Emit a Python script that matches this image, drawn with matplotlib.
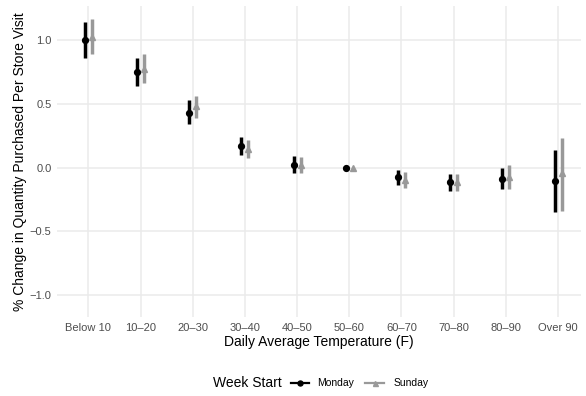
import matplotlib
matplotlib.use("Agg")
import matplotlib.pyplot as plt
from matplotlib.lines import Line2D
import numpy as np

plt.rcParams['font.family'] = ['Liberation Sans', 'DejaVu Sans']

categories = ["Below 10", "10\u201320", "20\u201330", "30\u201340", "40\u201350",
              "50\u201360", "60\u201370", "70\u201380", "80\u201390", "Over 90"]

monday_est = [1.00, 0.751, 0.433, 0.171, 0.025, 0.0, -0.072, -0.114, -0.085, -0.106]
monday_lo = [0.861, 0.639, 0.341, 0.098, -0.045, 0.0, -0.137, -0.182, -0.169, -0.351]
monday_hi = [1.143, 0.864, 0.529, 0.242, 0.090, 0.0, -0.014, -0.051, 0.000, 0.137]

sunday_est = [1.03, 0.778, 0.482, 0.145, 0.020, 0.0, -0.098, -0.111, -0.072, -0.045]
sunday_lo = [0.890, 0.665, 0.390, 0.077, -0.040, 0.0, -0.163, -0.182, -0.171, -0.341]
sunday_hi = [1.165, 0.896, 0.561, 0.216, 0.085, 0.0, -0.033, -0.046, 0.020, 0.237]

series_names = ["Monday", "Sunday"]
yticks = [-1.0, -0.5, 0.0, 0.5, 1.0]

W, H = 586, 396
fig = plt.figure(figsize=(W / 100, H / 100), dpi=100)
ax = fig.add_axes([57 / W, 1 - 317 / H, (581 - 57) / W, (317 - 5.5) / H])

x = np.arange(len(categories))
dodge = 0.067
grey = "#999999"
ms = 4.2
lw = 2.5
for (est, lo, hi, col, mk, off) in [
    (monday_est, monday_lo, monday_hi, "black", "o", -dodge),
    (sunday_est, sunday_lo, sunday_hi, grey, "^", dodge)]:
    xs = x + off
    ax.vlines(xs, lo, hi, color=col, lw=lw, zorder=3)
    ax.plot(xs, est, linestyle="none", marker=mk, color=col, markersize=ms, zorder=4)

ax.set_xlim(-0.6, 9.44)
ax.set_ylim(-1.173, 1.275)
ax.set_xticks(x)
ax.set_xticklabels(categories)
ax.set_yticks(yticks)
ax.set_yticklabels([f"{v:.1f}".replace("-", "\u2212") for v in yticks])
ax.grid(True, color="#EBEBEB", lw=1.1)
ax.set_axisbelow(True)
for s in ax.spines.values():
    s.set_visible(False)
ax.tick_params(length=0, labelsize=8, labelcolor="#4D4D4D", pad=4)

ax.set_xlabel("Daily Average Temperature (F)", fontsize=10, labelpad=2)
ax.set_ylabel("% Change in Quantity Purchased Per Store Visit", fontsize=10, labelpad=2)

# Legend drawn manually at the bottom
ly = 1 - 383 / H
fig.text(213 / W, ly, "Week Start", fontsize=10, ha="left", va="center")
for (x0, x1, tx, col, mk, name) in [
    (291, 309, 317, "black", "o", series_names[0]),
    (365, 384, 394, grey, "^", series_names[1])]:
    fig.add_artist(Line2D([x0 / W, x1 / W], [ly, ly], color=col, lw=1.6,
                          transform=fig.transFigure))
    fig.add_artist(Line2D([(x0 + x1) / 2 / W], [ly], color=col, marker=mk,
                          markersize=3.6, linestyle="none", transform=fig.transFigure))
    fig.text(tx / W, ly, name, fontsize=7.5, ha="left", va="center")

fig.savefig("out.png", dpi=100)
